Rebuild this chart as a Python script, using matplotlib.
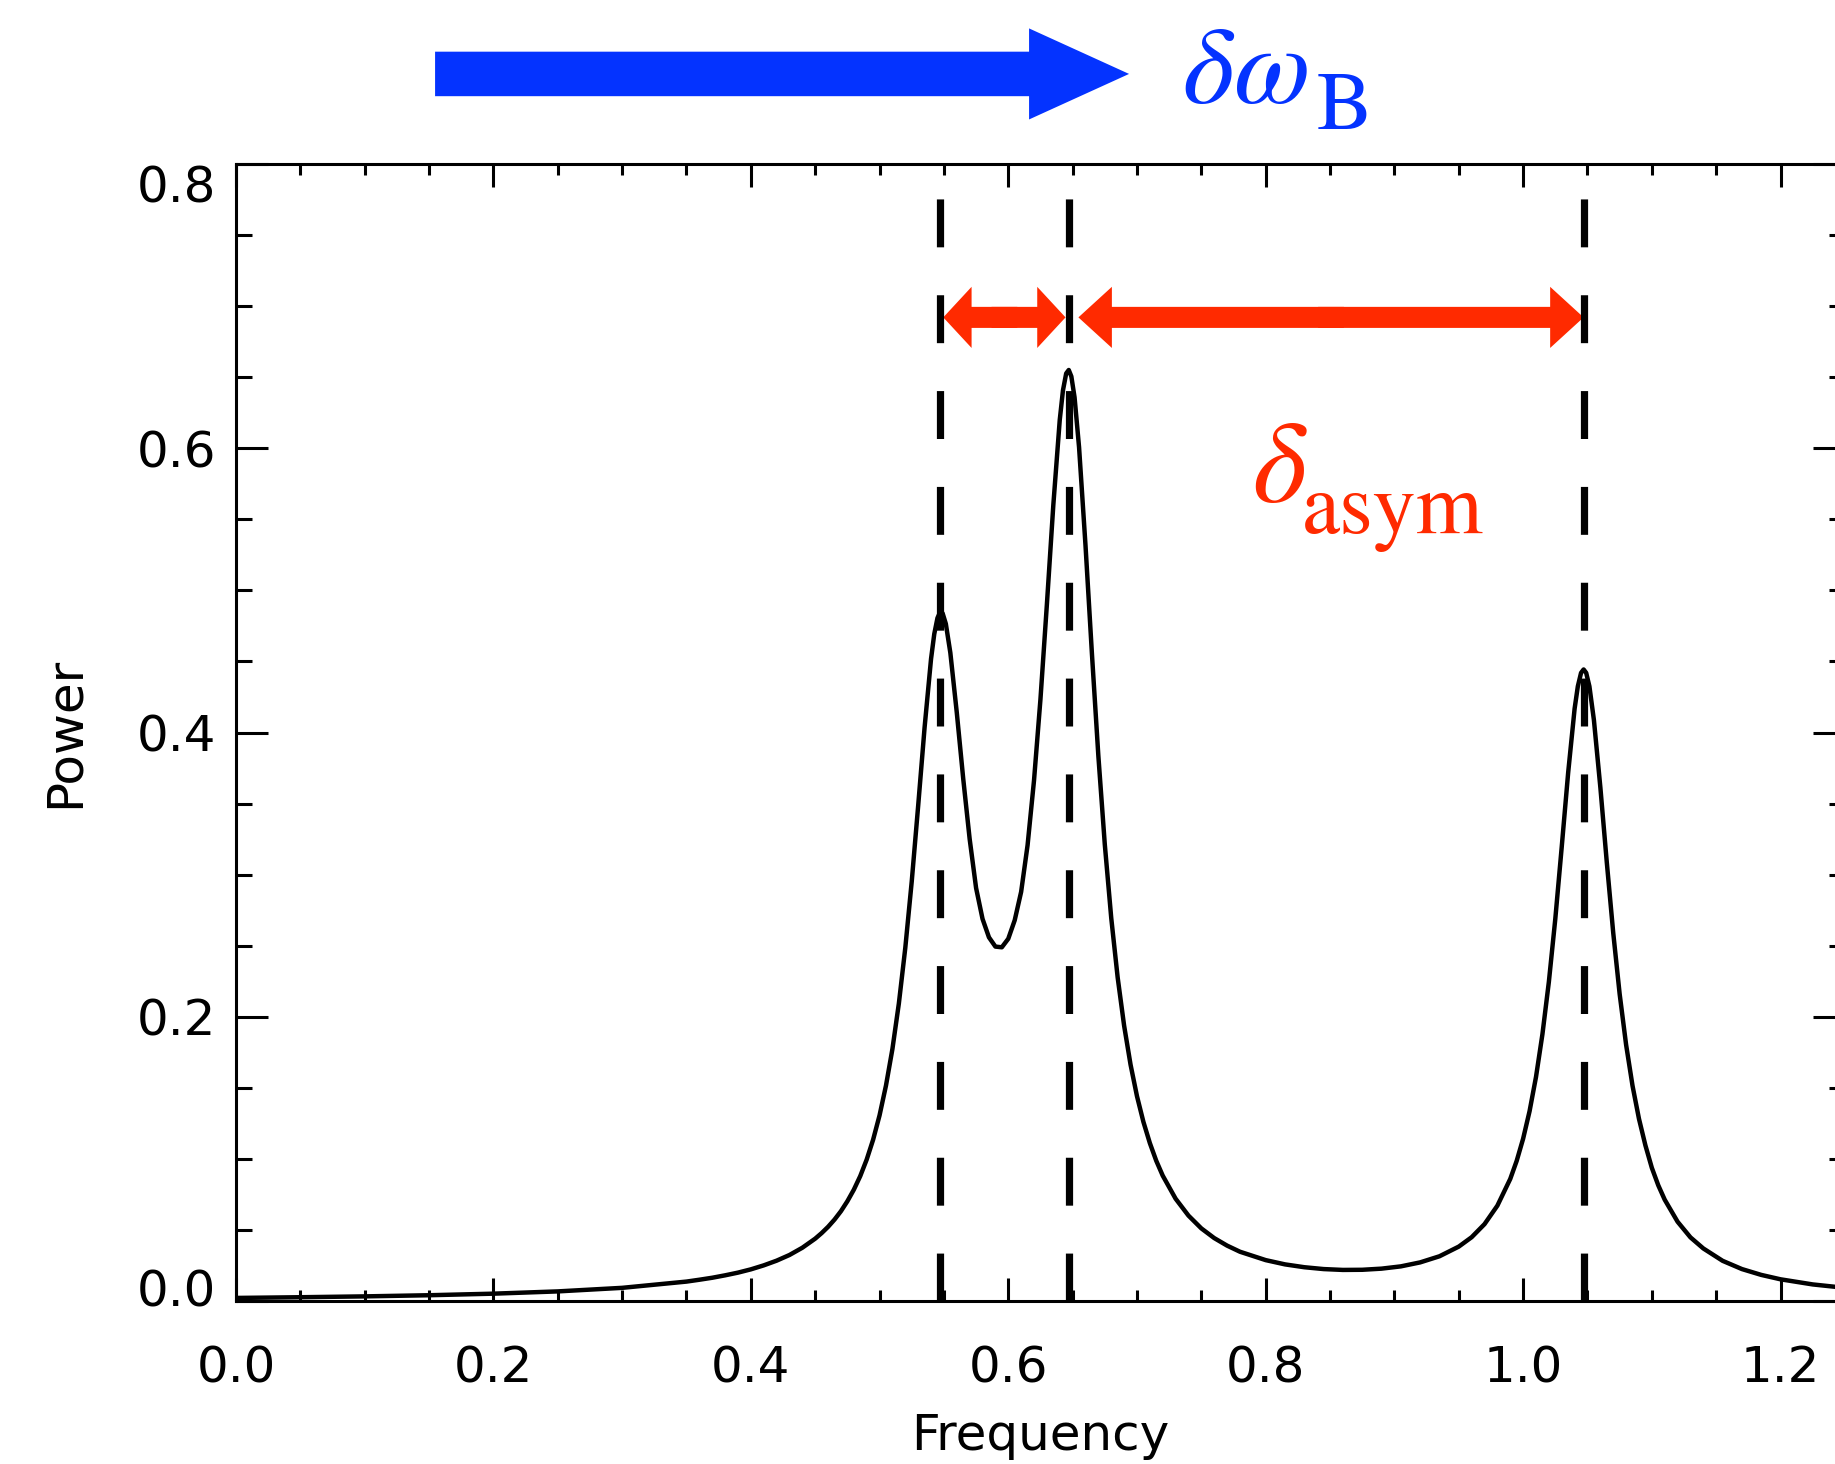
import matplotlib.pyplot as plt
from matplotlib.patches import FancyArrow
from matplotlib.ticker import MultipleLocator
from matplotlib.transforms import ScaledTranslation

# power spectrum
freq = [0.00, 0.05, 0.10, 0.15, 0.20, 0.25, 0.30, 0.35,
        0.36, 0.37, 0.38, 0.39, 0.40, 0.41, 0.42, 0.43,
        0.44, 0.45, 0.455, 0.46, 0.465, 0.47, 0.475, 0.48,
        0.485, 0.49, 0.495, 0.50, 0.505, 0.51, 0.515, 0.52,
        0.525, 0.53, 0.535, 0.54, 0.5425, 0.545, 0.547, 0.549,
        0.5515, 0.555, 0.56, 0.565, 0.57, 0.575, 0.58, 0.585,
        0.59, 0.595, 0.60, 0.605, 0.61, 0.615, 0.62, 0.625,
        0.63, 0.635, 0.64, 0.6425, 0.645, 0.647, 0.649, 0.6515,
        0.655, 0.66, 0.665, 0.67, 0.675, 0.68, 0.685, 0.69,
        0.695, 0.70, 0.705, 0.71, 0.715, 0.72, 0.73, 0.74,
        0.75, 0.76, 0.77, 0.78, 0.80, 0.815, 0.83, 0.845,
        0.86, 0.875, 0.89, 0.905, 0.92, 0.935, 0.95, 0.96,
        0.97, 0.98, 0.99, 0.995, 1.00, 1.005, 1.01, 1.015,
        1.02, 1.025, 1.03, 1.035, 1.04, 1.0425, 1.045, 1.047,
        1.049, 1.0515, 1.055, 1.06, 1.065, 1.07, 1.075, 1.08,
        1.085, 1.09, 1.095, 1.10, 1.105, 1.11, 1.12, 1.13,
        1.14, 1.155, 1.17, 1.185, 1.20, 1.225, 1.25]
power = [0.0024, 0.0029, 0.0035, 0.0043, 0.0054, 0.0070, 0.0095, 0.0139,
         0.0152, 0.0166, 0.0183, 0.0202, 0.0225, 0.0253, 0.0286, 0.0326,
         0.0377, 0.0441, 0.0480, 0.0524, 0.0575, 0.0634, 0.0704, 0.0785,
         0.0881, 0.0997, 0.1137, 0.1308, 0.1518, 0.1775, 0.2095, 0.2486,
         0.2953, 0.3485, 0.4037, 0.4518, 0.4693, 0.4806, 0.4846, 0.4839,
         0.4765, 0.4561, 0.4141, 0.3676, 0.3252, 0.2907, 0.2690, 0.2560,
         0.2495, 0.2490, 0.2550, 0.2680, 0.2880, 0.3208, 0.3663, 0.4234,
         0.4901, 0.5600, 0.6199, 0.6407, 0.6526, 0.6550, 0.6505, 0.6358,
         0.6007, 0.5317, 0.4554, 0.3835, 0.3213, 0.2696, 0.2277, 0.1939,
         0.1665, 0.1443, 0.1262, 0.1113, 0.0988, 0.0884, 0.0722, 0.0603,
         0.0513, 0.0445, 0.0392, 0.0349, 0.0290, 0.0260, 0.0240, 0.0227,
         0.0221, 0.0222, 0.0230, 0.0246, 0.0274, 0.0317, 0.0385, 0.0451,
         0.0543, 0.0673, 0.0861, 0.0988, 0.1144, 0.1337, 0.1578, 0.1879,
         0.2247, 0.2690, 0.3197, 0.3719, 0.4168, 0.4325, 0.4420, 0.4444,
         0.4420, 0.4325, 0.4088, 0.3615, 0.3088, 0.2592, 0.2161, 0.1805,
         0.1516, 0.1284, 0.1097, 0.0939, 0.0816, 0.0715, 0.0560, 0.0450,
         0.0372, 0.0285, 0.0227, 0.0186, 0.0155, 0.0119, 0.0095]

mode_freqs = [0.547, 0.647, 1.047]

# red double arrows between the modes
arrow_x0 = [0.5495, 0.6545]
arrow_x1 = [0.6445, 1.047]
arrow_y = 0.692

xticks = [0.0, 0.2, 0.4, 0.6, 0.8, 1.0, 1.2]
xtick_labels = ['0.0', '0.2', '0.4', '0.6', '0.8', '1.0', '1.2']
yticks = [0.0, 0.2, 0.4, 0.6, 0.8]
ytick_labels = ['0.0', '0.2', '0.4', '0.6', '0.8']

red = '#FF2A00'
blue = '#0433FF'

plt.rcParams['font.family'] = 'DejaVu Sans'
plt.rcParams['lines.scale_dashes'] = False

fig = plt.figure(figsize=(18.35, 14.64), dpi=100)
# right spine sits just past the picture edge, as in the original
ax = fig.add_axes([0.1286, 0.1111, 0.8768, 0.7770])

for f in mode_freqs:
    ax.plot([f, f], [0, 0.8], color='k', lw=5.2, ls=(0, (34.5, 34.5)),
            dash_capstyle='butt')
ax.plot(freq, power, color='k', lw=3.2, solid_joinstyle='round')

for x0, x1 in zip(arrow_x0, arrow_x1):
    mid = (x0 + x1) / 2
    hl = 0.026 if x1 - x0 > 0.2 else 0.022
    # two overlapping single arrows make one double-headed arrow
    for a, b in ((mid - 0.01, x1), (mid + 0.01, x0)):
        ax.add_patch(FancyArrow(a, arrow_y, b - a, 0, width=0.0148,
                                head_width=0.043, head_length=hl,
                                length_includes_head=True, color=red, lw=0))

ax.set_xlim(0, 1.25)
ax.set_ylim(0, 0.8)
ax.set_xticks(xticks, xtick_labels)
ax.set_yticks(yticks, ytick_labels)
ax.xaxis.set_minor_locator(MultipleLocator(0.05))
ax.yaxis.set_minor_locator(MultipleLocator(0.05))
ax.tick_params(which='both', direction='in', top=True, right=True,
               width=2.2, labelsize=36)
ax.tick_params(axis='x', which='major', length=16.3, pad=31)
ax.tick_params(axis='x', which='minor', length=8.2)
ax.tick_params(axis='y', which='major', length=23, pad=14)
ax.tick_params(axis='y', which='minor', length=11.6)
for s in ax.spines.values():
    s.set_linewidth(2.2)

# end labels on the y axis are pulled inside the axis range
ylabs = ax.get_yticklabels()
ylabs[0].set_transform(ylabs[0].get_transform()
                       + ScaledTranslation(0, 0.14, fig.dpi_scale_trans))
ylabs[-1].set_transform(ylabs[-1].get_transform()
                        + ScaledTranslation(0, -0.20, fig.dpi_scale_trans))

ax.set_xlabel('Frequency', fontsize=36)
ax.xaxis.set_label_coords(0.5, -0.097)
ax.set_ylabel('Power', fontsize=36)
ax.yaxis.set_label_coords(-0.0914, 0.5)

# blue arrow and label above the plot
fig.add_artist(FancyArrow(0.2371, 0.9495, 0.6153 - 0.2371, 0, width=0.0304,
                          head_width=0.0622, head_length=0.0545,
                          length_includes_head=True, color=blue, lw=0,
                          transform=fig.transFigure))
fig.text(0.6441, 0.9296, r'$\delta\omega$', fontsize=80, color=blue,
         math_fontfamily='stix', va='baseline')
fig.text(0.7175, 0.9119, 'B', fontsize=60, color=blue,
         family='STIXGeneral', va='baseline')

fig.text(0.6823, 0.6571, r'$\delta$', fontsize=84, color=red,
         math_fontfamily='stix', va='baseline')
fig.text(0.7095, 0.6359, 'asym', fontsize=62, color=red,
         family='STIXGeneral', va='baseline')

fig.savefig('out.png', dpi=100)
